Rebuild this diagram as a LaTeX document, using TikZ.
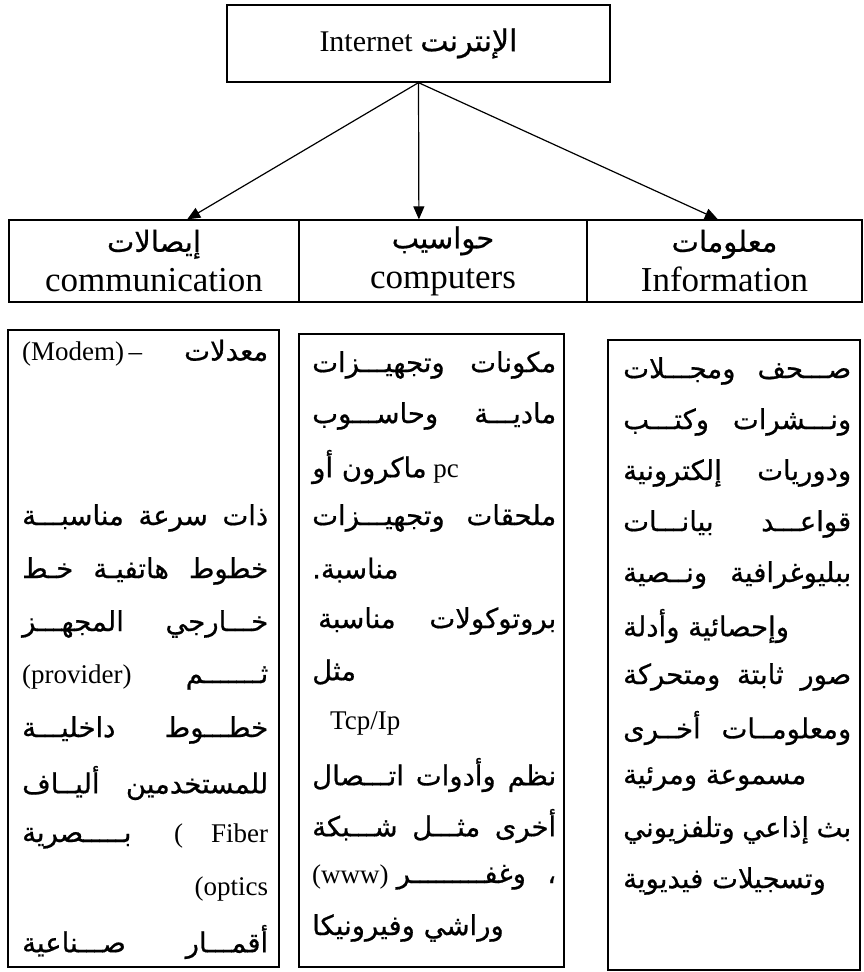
\documentclass[tikz,border=0pt]{standalone}
\usepackage{fontspec}
\setmainfont{Liberation Serif}
\newfontfamily\arfont[Script=Arabic,Scale=1.0,FakeBold=0.6]{DejaVu Sans}
\TeXXeTstate=1
\usetikzlibrary{arrows.meta,calc}
\newcommand\AR[1]{{\arfont\beginR #1\endR}}
\newcommand\ARs[1]{{\fontsize{27.5}{30}\arfont\beginR #1\endR}}
\newcommand\JL[2]{\hbox to #1{\fontsize{27.5}{30}\arfont\beginR #2\endR}}
\newcommand\ML[2]{\hbox to #1{#2}}
\newcommand\HD[2]{{\fontsize{29}{40}\selectfont\AR{#1}}\\#2}
\tikzset{
  box/.style={draw, line width=1.3pt, inner sep=0pt},
  cell/.style={box, minimum height=82pt, align=center, font=\fontsize{35}{40}\selectfont},
  ln/.style={anchor=west, inner sep=0pt, font=\fontsize{27}{30}\selectfont},
  conn/.style={-{Triangle[length=13pt,width=11pt]}, line width=1.2pt}
}
\begin{document}
\begin{tikzpicture}[x=1pt,y=-1pt]
\useasboundingbox (0,0) rectangle (864,972);
% top box
\node[box, minimum width=383pt, minimum height=77pt, font=\fontsize{30}{36}\selectfont] (top) at (418.5,43.5) {Internet \AR{الإنترنت}};
% header cells
\node[cell, minimum width=290pt] (c1) at (154,261) {\HD{إيصالات}{communication}};
\node[cell, minimum width=288pt] (c2) at (443,261) {\HD{حواسيب}{computers}};
\node[cell, minimum width=275pt] (c3) at (724.5,261) {\HD{معلومات}{Information}};
% connectors
\draw[conn] (top.south) -- ($(c1.north west)!0.614!(c1.north east)$);
\draw[conn] (top.south) -- ($(c2.north west)!0.4167!(c2.north east)$);
\draw[conn] (top.south) -- ($(c3.north west)!0.476!(c3.north east)$);
% bottom boxes
\node[box, minimum width=271pt, minimum height=637pt] (b1) at (143.5,648.5) {};
\node[box, minimum width=265pt, minimum height=633pt] (b2) at (431.5,650.5) {};
\node[box, minimum width=252pt, minimum height=630pt] (b3) at (734,655) {};
% left column
\node[ln] (l1) at (22,353) {\ML{246pt}{(Modem)\,–\hfill\ARs{معدلات}}};
\node[ln] (l2) at (22,518) {\JL{246pt}{ذات\hfill سرعة\hfill مناسبـــة}};
\node[ln] (l3) at (22,571) {\JL{246pt}{خطوط\hfill هاتفيـة\hfill خـط}};
\node[ln] (l4) at (22,624) {\JL{246pt}{خـــارجي\hfill المجهـــز}};
\node[ln] (l5) at (22,677) {\ML{246pt}{(provider)\hfill\ARs{ثـــــــم}}};
\node[ln] (l6) at (22,730) {\JL{246pt}{خطـــوط\hfill داخليـــة}};
\node[ln] (l7) at (22,783) {\JL{246pt}{للمستخدمين\hfill أليــاف}};
\node[ln] (l8) at (22,836) {\ML{246pt}{\ARs{بـــــصرية}\hfill(\hskip 28pt Fiber}};
\node[ln] (l9) at (22,889) {\ML{246pt}{\hfill(optics}};
\node[ln] (l10) at (22,942) {\JL{246pt}{أقمـــار\hfill صـــناعية}};
% middle column
\node[ln] (m1) at (312,365) {\JL{244pt}{مكونات\hfill وتجهيـــزات}};
\node[ln] (m2) at (312,416) {\JL{244pt}{ماديـــة\hfill وحاســـوب}};
\node[ln] (m3) at (312,467) {\ML{244pt}{\ARs{ماكرون أو}\ pc\hfill}};
\node[ln] (m4) at (312,518) {\JL{244pt}{ملحقات\hfill وتجهيـــزات}};
\node[ln] (m5) at (312,570) {\ML{244pt}{\ARs{مناسبة.}\hfill}};
\node[ln] (m6) at (318,621) {\JL{238pt}{بروتوكولات\hfill مناسبة}};
\node[ln] (m7) at (312,672) {\ML{244pt}{\ARs{مثل}\hfill}};
\node[ln] (m8) at (330,723) {Tcp/Ip};
\node[ln] (m9) at (312,775) {\JL{244pt}{نظم\hfill وأدوات\hfill اتـــصال}};
\node[ln] (m10) at (312,826) {\JL{244pt}{أخرى\hfill مثـــل\hfill شـــبكة}};
\node[ln] (m11) at (312,877) {\ML{244pt}{(www)\hskip 8pt\ARs{وغفـــــــــر}\hfill\ARs{،}}};
\node[ln] (m12) at (312,928) {\ML{244pt}{\ARs{وراشي وفيرونيكا}\hfill}};
% right column
\node[ln] (r1) at (623,371) {\JL{228pt}{صـــحف\hfill ومجـــلات}};
\node[ln] (r2) at (623,422) {\JL{228pt}{ونـــشرات\hfill وكتـــب}};
\node[ln] (r3) at (623,473) {\JL{228pt}{ودوريات\hfill إلكترونية}};
\node[ln] (r4) at (623,524) {\JL{228pt}{قواعـــد\hfill بيانـــات}};
\node[ln] (r5) at (623,575) {\JL{228pt}{ببليوغرافية\hfill ونــصية}};
\node[ln] (r6) at (623,626) {\ML{228pt}{\ARs{وإحصائية وأدلة}\hfill}};
\node[ln] (r7) at (623,677) {\JL{228pt}{صور\hfill ثابتة\hfill ومتحركة}};
\node[ln] (r8) at (623,728) {\JL{228pt}{ومعلومــات\hfill أخــرى}};
\node[ln] (r9) at (623,779) {\ML{228pt}{\ARs{مسموعة ومرئية}\hfill}};
\node[ln] (r10) at (623,830) {\JL{228pt}{بث\hfill إذاعي\hfill وتلفزيوني}};
\node[ln] (r11) at (623,881) {\ML{228pt}{\ARs{وتسجيلات فيديوية}\hfill}};
\end{tikzpicture}
\end{document}
